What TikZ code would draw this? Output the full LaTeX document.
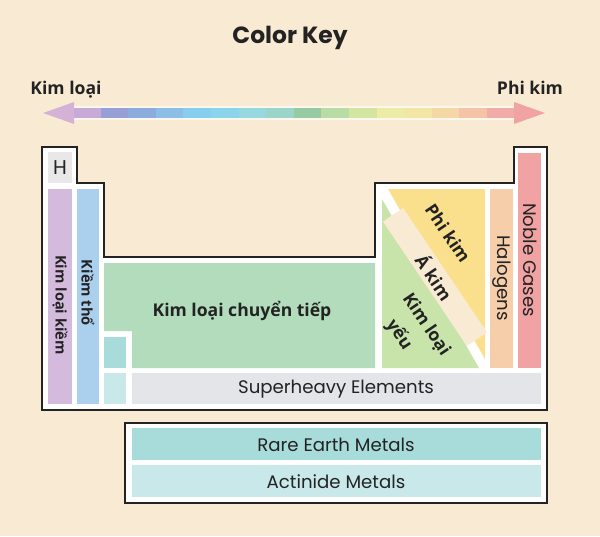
\documentclass[tikz,border=0pt]{standalone}
\usepackage{fontspec}
\setmainfont{Open Sans}
\newfontfamily\comic{Poppins}
\definecolor{bg}{RGB}{249,235,211}
\definecolor{ink}{RGB}{35,35,35}
\definecolor{hgray}{RGB}{232,232,232}
\definecolor{alkali}{RGB}{212,187,222}
\definecolor{earth}{RGB}{170,208,238}
\definecolor{trans}{RGB}{178,220,188}
\definecolor{rare}{RGB}{168,220,218}
\definecolor{actin}{RGB}{200,232,234}
\definecolor{heavy}{RGB}{228,229,233}
\definecolor{weak}{RGB}{200,228,170}
\definecolor{nonmet}{RGB}{250,224,140}
\definecolor{halo}{RGB}{246,206,170}
\definecolor{noble}{RGB}{241,163,163}
\begin{document}
\begin{tikzpicture}[x=0.03cm, y=-0.03cm,
    outline/.style={draw=ink, line width=1.7pt, fill=white},
    vlabel/.style={rotate=-90, text=ink, font=\bfseries\fontsize{12.5}{13}\selectfont},
    dlabel/.style={rotate=-56, text=ink, font=\bfseries\fontsize{15}{16}\selectfont},
    clabel/.style={text=ink, font=\comic\fontsize{15.5}{16}\selectfont}]
\fill[bg] (0,0) rectangle (600,536);
\useasboundingbox (0,0) rectangle (600,536);

% title and arrow
\node[text=ink, font=\comic\bfseries\fontsize{20}{21}\selectfont] (title) at (290,38) {Color Key};
\node[text=ink, font=\bfseries\fontsize{15}{16}\selectfont] (metal) at (66,90) {Kim loại};
\node[text=ink, font=\bfseries\fontsize{15}{16}\selectfont] (nonmetal) at (530,88) {Phi kim};
\coordinate (tipL) at (43,113);
\coordinate (tipR) at (545,113);
\fill[white, opacity=0.6] (60,106.5) rectangle (528,119.5);
\foreach \c [count=\i] in {{200,170,215},{150,160,215},{140,172,222},{140,190,232},
    {135,205,240},{140,212,236},{150,216,222},{155,212,200},{150,202,162},{185,220,165},
    {210,230,162},{236,236,166},{242,230,165},{245,215,165},{245,196,166},{240,172,166}}
  {\definecolor{seg}{RGB}{\c}
   \fill[seg] (73+\i*27.6-27.6,108.5) rectangle ++(27.9,9);}
\fill[alkali!95!purple] (tipL) -- (74,102) -- (74,124) -- cycle;
\fill[noble] (tipR) -- (514,102) -- (514,124) -- cycle;

% main table
\draw[outline] (42,147) -- (77,147) -- (77,183) -- (104,183) -- (104,257) -- (375,257)
  -- (375,183) -- (514,183) -- (514,147) -- (547,147) -- (547,410) -- (42,410) -- cycle;
\fill[hgray] (48,152) rectangle (72,183);
\fill[alkali] (48,189) rectangle (72,404);
\fill[earth] (77,189) rectangle (99,404);
\fill[trans] (104,263) -- (375,263) -- (375,368) -- (132,368) -- (132,331) -- (104,331) -- cycle;
\fill[rare] (104,337) rectangle (126,368);
\fill[actin] (104,373) rectangle (126,404);
\fill[heavy] (132,373) rectangle (541,404);
\fill[weak] (382,199) -- (382,368) -- (479,368) -- cycle;
\fill[nonmet] (388,189) -- (485,189) -- (485,359) -- cycle;
\fill[halo] (490,189) rectangle (513,368);
\fill[noble] (518,153) rectangle (541,368);

\node[text=ink, font=\comic\fontsize{17}{18}\selectfont] (H) at (60,168) {H};
\node[vlabel] (alk) at (60,305) {Kim loại kiềm};
\node[vlabel] (alkearth) at (88,293) {Kiềm thổ};
\node[text=ink, font=\bfseries\fontsize{15}{16}\selectfont] (tm) at (242,311) {Kim loại chuyển tiếp};
\node[clabel] (superheavy) at (336,389) {Superheavy Elements};
\node[dlabel] (nm) at (448,233) {Phi kim};
\node[dlabel, fill=bg, minimum width=4.5cm, minimum height=0.72cm] (metalloid) at (435,277) {Á kim};
\node[dlabel] (pm) at (426,325) {Kim loại};
\node[dlabel] (pm2) at (399,335) {yếu};
\node[clabel, rotate=-90] (hal) at (502,278) {Halogens};
\node[clabel, rotate=-90] (gas) at (530,260) {Noble Gases};

% f-block
\draw[outline] (125,423) rectangle (547,503);
\fill[rare] (132,428) rectangle (541,460);
\fill[actin] (132,465) rectangle (541,497);
\node[clabel] (ree) at (336,445) {Rare Earth Metals};
\node[clabel] (act) at (336,482) {Actinide Metals};
\end{tikzpicture}
\end{document}
